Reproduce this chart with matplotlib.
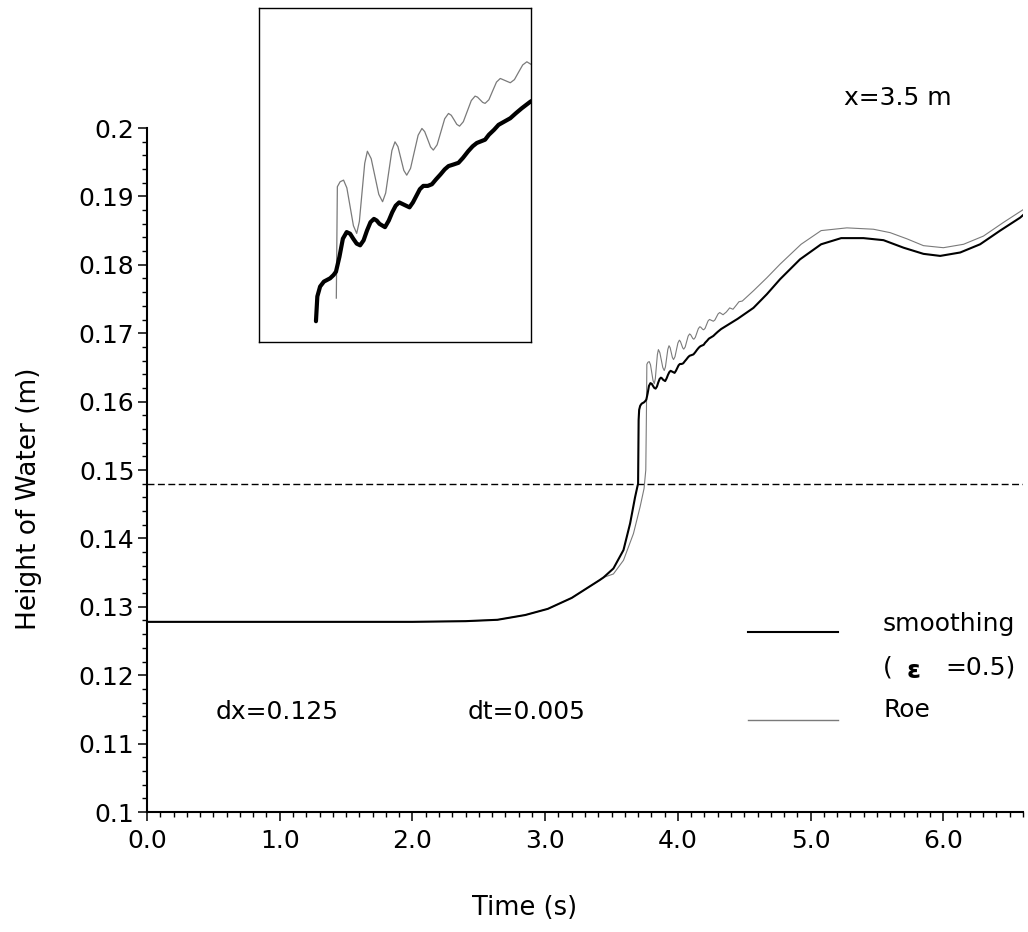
import matplotlib
matplotlib.use("Agg")
import matplotlib.pyplot as plt
import numpy as np
from matplotlib.lines import Line2D
from matplotlib.ticker import MultipleLocator, FormatStrFormatter

plt.rcParams['font.family'] = ['DejaVu Sans']

# ---------------- data ----------------
t_smooth = [0.0, 1.0, 2.0, 2.4, 2.64, 2.85, 3.02, 3.2, 3.41, 3.44, 3.514, 3.59, 3.64, 3.677,
            3.695, 3.700, 3.704, 3.708, 3.716, 3.727, 3.745, 3.755, 3.762, 3.772, 3.782,
            3.793, 3.803, 3.812, 3.822, 3.832, 3.842, 3.852, 3.862, 3.872, 3.880, 3.888,
            3.904, 3.915, 3.925, 3.935, 3.945, 3.955, 3.975, 3.985, 3.995, 4.005, 4.015,
            4.028, 4.040, 4.052, 4.065, 4.077, 4.088, 4.103, 4.117, 4.130, 4.145, 4.158,
            4.170, 4.182, 4.194, 4.205, 4.220, 4.233, 4.250, 4.267, 4.283, 4.300, 4.325,
            4.40, 4.45, 4.569, 4.67, 4.77, 4.92, 5.079, 5.23, 5.398, 5.549, 5.70, 5.85,
            5.976, 6.127, 6.277, 6.428, 6.579, 6.62]
h_smooth = [0.1278, 0.1278, 0.1278, 0.1279, 0.1281, 0.1288, 0.1297, 0.1313, 0.1339, 0.1343,
            0.1356, 0.1383, 0.1422, 0.1460, 0.1476, 0.1480, 0.1573, 0.1588, 0.1594, 0.1597,
            0.1599, 0.1601, 0.1603, 0.1612, 0.1623, 0.1627, 0.1626, 0.1623, 0.1620, 0.1619,
            0.1622, 0.1628, 0.1633, 0.1635, 0.1634, 0.1632, 0.1630, 0.1634, 0.1639, 0.1643,
            0.1645, 0.1644, 0.1642, 0.1645, 0.1649, 0.1653, 0.1655, 0.1655, 0.1656, 0.1659,
            0.1662, 0.1665, 0.1667, 0.1668, 0.1669, 0.1672, 0.1676, 0.1679, 0.1681, 0.1682,
            0.1683, 0.1686, 0.1689, 0.1692, 0.1694, 0.1696, 0.1699, 0.1702, 0.1706, 0.1715,
            0.1721, 0.1737, 0.1757, 0.1779, 0.1808, 0.1830, 0.1839, 0.1839, 0.1836, 0.1825,
            0.1816, 0.1813, 0.1818, 0.1830, 0.1850, 0.1869, 0.1876]

t_roe = [0.0, 1.0, 2.0, 2.4, 2.64, 2.85, 3.02, 3.2, 3.41, 3.44, 3.514, 3.59, 3.665, 3.715,
         3.745, 3.758, 3.763, 3.766, 3.774, 3.784,
         3.7935, 3.803, 3.8125, 3.822, 3.8298, 3.8375, 3.8453, 3.853,
         3.864, 3.875, 3.886, 3.897, 3.906, 3.915, 3.924, 3.933,
         3.9415, 3.950, 3.9585, 3.967, 3.978, 3.989, 4.000, 4.011,
         4.019, 4.0275, 4.036, 4.044, 4.055, 4.066, 4.077, 4.088,
         4.096, 4.104, 4.112, 4.120, 4.131, 4.1425, 4.154, 4.165,
         4.172, 4.1795, 4.187, 4.194, 4.205, 4.216, 4.227, 4.238,
         4.2525, 4.267, 4.279, 4.291, 4.303, 4.315,
         4.34, 4.365, 4.39, 4.415, 4.44, 4.46, 4.485, 4.569, 4.670, 4.770, 4.928, 5.079,
         5.273, 5.473, 5.599, 5.725, 5.85, 6.0, 6.152, 6.302, 6.453, 6.604, 6.62]
h_roe = [0.1278, 0.1278, 0.1278, 0.1279, 0.1281, 0.1288, 0.1297, 0.1313, 0.1339, 0.1343,
         0.1348, 0.1368, 0.1407, 0.1446, 0.1473, 0.1500, 0.1587, 0.16545, 0.16575, 0.16585,
         0.16538, 0.16424, 0.16309, 0.16262, 0.16335, 0.16511, 0.16687, 0.16760,
         0.16715, 0.16607, 0.16499, 0.16454, 0.16507, 0.16636, 0.16764, 0.16817,
         0.16788, 0.16716, 0.16644, 0.16615, 0.16656, 0.16757, 0.16857, 0.16898,
         0.16879, 0.16833, 0.16786, 0.16767, 0.16799, 0.16878, 0.16957, 0.16989,
         0.16978, 0.16951, 0.16923, 0.16912, 0.16939, 0.17003, 0.17067, 0.17094,
         0.17088, 0.17072, 0.17056, 0.17050, 0.17072, 0.17126, 0.17179, 0.17201,
         0.17188, 0.17175, 0.17194, 0.17239, 0.17283, 0.17302,
         0.1727, 0.1731, 0.1737, 0.1735, 0.1741, 0.1746, 0.1747, 0.1762, 0.1781, 0.1801,
         0.1830, 0.1850, 0.1854, 0.1852, 0.1847, 0.1838, 0.1828, 0.1825, 0.1830, 0.1842,
         0.1862, 0.1881, 0.1884]

initial_level = 0.148
x_ticks = [0.0, 1.0, 2.0, 3.0, 4.0, 5.0, 6.0]
y_ticks = [0.1, 0.11, 0.12, 0.13, 0.14, 0.15, 0.16, 0.17, 0.18, 0.19, 0.2]
inset_t_start_smooth = 3.704
inset_t_start_roe = 3.763

# ---------------- figure ----------------
W, H = 1028, 932
fig = plt.figure(figsize=(W / 100, H / 100), dpi=100)

def fx(px):
    return px / W

def fy(py):
    return 1 - py / H

ax = fig.add_axes([fx(147), fy(812), fx(1023) - fx(147), fy(128) - fy(812)])
ax.set_xlim(0, 6.6)
ax.set_ylim(0.1, 0.2)

grey = '#7a7a7a'
ax.plot(t_roe, h_roe, color=grey, lw=0.8, zorder=3)
ax.plot(t_smooth, h_smooth, color='black', lw=1.5, zorder=4)
ax.axhline(initial_level, color='black', lw=1.0, dashes=(5, 2.5), zorder=2)

for s in ['top', 'right']:
    ax.spines[s].set_visible(False)
for s in ['left', 'bottom']:
    ax.spines[s].set_linewidth(1.5)

ax.set_xticks(x_ticks)
ax.set_yticks(y_ticks)
ax.xaxis.set_major_formatter(FormatStrFormatter('%.1f'))
ax.set_yticklabels(['%g' % v for v in y_ticks])
ax.xaxis.set_minor_locator(MultipleLocator(0.1))
ax.yaxis.set_minor_locator(MultipleLocator(0.002))
ax.tick_params(which='major', direction='out', length=6.5, width=1.1, labelsize=18)
ax.tick_params(which='minor', direction='out', length=3.8, width=1.0)
ax.tick_params(axis='x', which='major', pad=5.8)
ax.tick_params(axis='y', which='major', pad=2.5)

# axis labels
fig.text(fx(29), fy(499), 'Height of Water (m)', rotation=90, ha='center', va='center', fontsize=19)
fig.text(fx(525), fy(908), 'Time (s)', ha='center', va='center', fontsize=18.5)

# annotations
fig.text(fx(898), fy(98), 'x=3.5 m', ha='center', va='center', fontsize=18)
fig.text(fx(277), fy(712), 'dx=0.125', ha='center', va='center', fontsize=18)
fig.text(fx(527), fy(712), 'dt=0.005', ha='center', va='center', fontsize=18)

# legend
fig.add_artist(Line2D([fx(748), fx(838)], [fy(632), fy(632)], color='black', lw=1.5))
fig.add_artist(Line2D([fx(748), fx(838)], [fy(720), fy(720)], color=grey, lw=1.0))
fig.text(fx(883), fy(624), 'smoothing', ha='left', va='center', fontsize=18)
fig.text(fx(883), fy(668), '(', ha='left', va='center', fontsize=18)
fig.text(fx(907), fy(671), 'ε', ha='left', va='center', fontsize=18, fontweight='bold')
fig.text(fx(945), fy(668), '=0.5)', ha='left', va='center', fontsize=18)
fig.text(fx(883), fy(710), 'Roe', ha='left', va='center', fontsize=18)

# inset
axi = fig.add_axes([fx(259), fy(342), fx(531) - fx(259), fy(8) - fy(342)])
ts = np.array(t_smooth); hs = np.array(h_smooth)
tr = np.array(t_roe); hr = np.array(h_roe)
ms = ts >= inset_t_start_smooth
mr = tr >= inset_t_start_roe
axi.plot(tr[mr], hr[mr], color=grey, lw=0.9)
axi.plot(ts[ms], hs[ms], color='black', lw=3.0, solid_capstyle='round')
axi.set_xlim(3.539, 4.327)
axi.set_ylim(0.15604, 0.17628)
axi.set_xticks([]); axi.set_yticks([])
for s in axi.spines.values():
    s.set_linewidth(1.0)

fig.savefig('out.png', dpi=100)
